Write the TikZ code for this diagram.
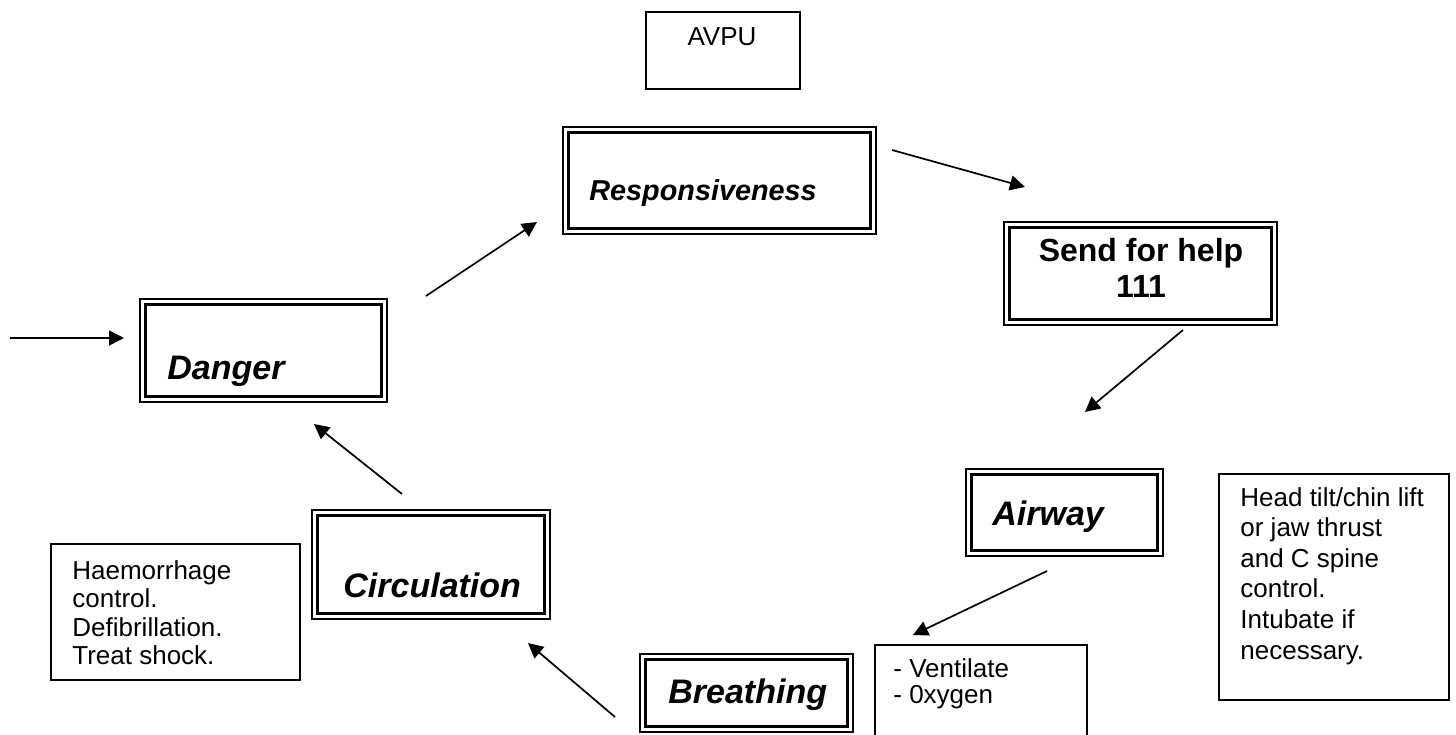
\documentclass[tikz,border=0pt]{standalone}
\usepackage{fontspec}
\setmainfont{Liberation Sans}
\usetikzlibrary{arrows.meta}
\begin{document}
\begin{tikzpicture}[x=0.5pt,y=-0.5pt,
  dbox/.style={draw, line width=0.7pt, inner sep=0pt},
  dinner/.style={path picture={\draw[line width=1.4pt]
     ([shift={(2.9pt,-2.9pt)}]path picture bounding box.north west) rectangle
     ([shift={(-2.9pt,2.9pt)}]path picture bounding box.south east);}},
  tbox/.style={draw, line width=0.65pt, inner sep=0pt},
  lbl/.style={inner sep=0pt, anchor=base west, font=\fontsize{17pt}{20pt}\selectfont\bfseries\itshape},
  txt/.style={inner sep=0pt, anchor=base west, font=\fontsize{13pt}{15pt}\selectfont},
  arr/.style={line width=0.85pt, -{Triangle[length=7.5pt,width=7.5pt]}}
]
\useasboundingbox (0,0) rectangle (1456,734);

% double-framed boxes
\node[dbox, dinner, minimum width=156.5pt, minimum height=53.5pt] (resp) at (719.5,180.5) {};
\node[dbox, dinner, minimum width=136.5pt, minimum height=51.5pt] (send) at (1140.5,273.5) {};
\node[dbox, dinner, minimum width=123.5pt, minimum height=51.5pt] (danger) at (263.5,350.5) {};
\node[dbox, dinner, minimum width=119pt, minimum height=54.5pt] (circ) at (431,564.5) {};
\node[dbox, dinner, minimum width=98.5pt, minimum height=43.5pt] (airway) at (1064.5,512.5) {};
\node[dbox, dinner, minimum width=106.5pt, minimum height=39pt] (breath) at (746.5,693) {};

% plain boxes
\node[tbox, minimum width=77pt, minimum height=38.5pt] (avpu) at (723,50.5) {};
\node[tbox, minimum width=124.5pt, minimum height=68pt] (haem) at (175.5,612) {};
\node[tbox, minimum width=106pt, minimum height=50pt] (vent) at (981,695) {};
\node[tbox, minimum width=115pt, minimum height=113pt] (head) at (1334,587) {};

% labels
\node[txt, anchor=base] (avpuT) at (722,45) {AVPU};
\node[lbl, font=\fontsize{14.4pt}{17pt}\selectfont\bfseries\itshape] (respT) at (589,200) {Responsiveness};
\node[inner sep=0pt, anchor=base, font=\fontsize{16pt}{17.5pt}\selectfont\bfseries] (sendT) at (1141,261)
  {\vtop{\baselineskip=18pt\halign{\hfil#\hfil\cr Send for help\cr 111\cr}}};
\node[lbl] (dangerT) at (167,379) {Danger};
\node[lbl] (circT) at (343,597) {Circulation};
\node[lbl] (airwayT) at (992,525) {Airway};
\node[lbl] (breathT) at (668,703) {Breathing};

\node[txt] (haemT) at (72,579)
  {\vtop{\baselineskip=14.25pt\hbox{Haemorrhage}\hbox{control.}\hbox{Defibrillation.}\hbox{Treat shock.}}};
\node[txt] (ventT) at (893,677)
  {\vtop{\baselineskip=13pt\hbox{- Ventilate}\hbox{- 0xygen}}};
\node[txt] (headT) at (1240,506)
  {\vtop{\baselineskip=15.3pt\hbox{Head tilt/chin lift}\hbox{or jaw thrust}\hbox{and C spine}\hbox{control.}\hbox{Intubate if}\hbox{necessary.}}};

% connector end points
\coordinate (s0) at (10,338);   \coordinate (e0) at (124,338);
\coordinate (s1) at (426,296);  \coordinate (e1) at (537,222);
\coordinate (s2) at (892,150);  \coordinate (e2) at (1025,187);
\coordinate (s3) at (1183,330); \coordinate (e3) at (1085,412);
\coordinate (s4) at (1047,571); \coordinate (e4) at (913,635);
\coordinate (s5) at (615,717);  \coordinate (e5) at (528,643);
\coordinate (s6) at (402,494);  \coordinate (e6) at (314,424);

\draw[arr] (s0) -- (e0);
\draw[arr] (s1) -- (e1);
\draw[arr] (s2) -- (e2);
\draw[arr] (s3) -- (e3);
\draw[arr] (s4) -- (e4);
\draw[arr] (s5) -- (e5);
\draw[arr] (s6) -- (e6);
\end{tikzpicture}
\end{document}
